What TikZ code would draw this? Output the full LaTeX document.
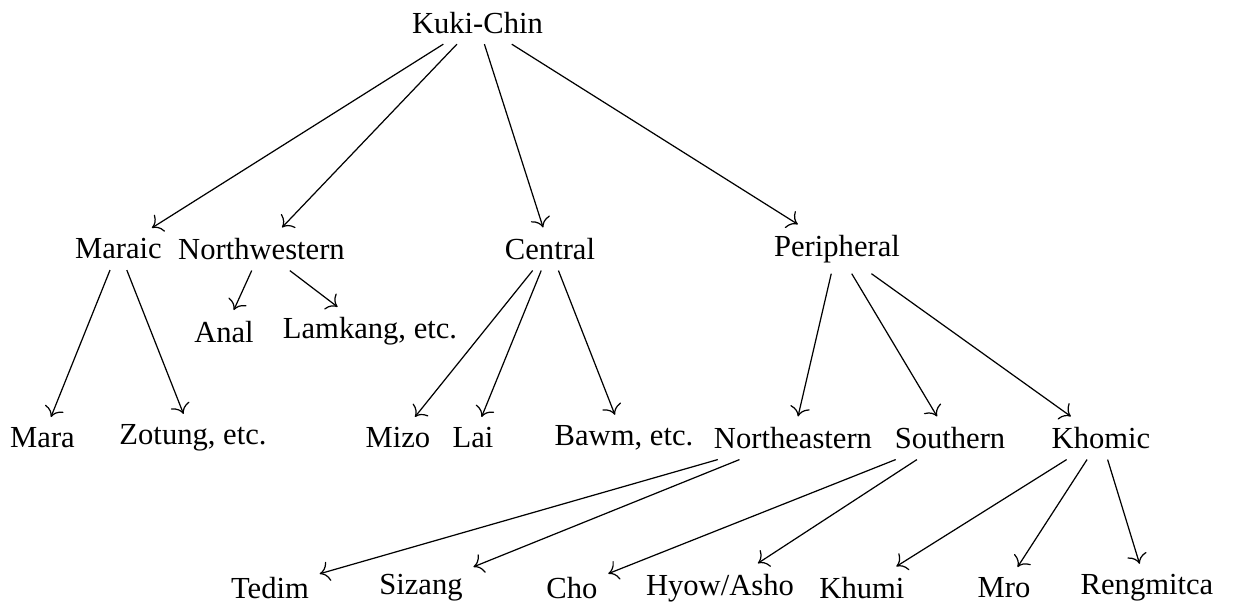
\documentclass[tikz,border=0pt]{standalone}
\usepackage{fontspec}
\setmainfont{Liberation Serif}
\usetikzlibrary{arrows.meta,positioning}

\begin{document}
\begin{tikzpicture}
[x=0.3268pt, y=-0.3268pt, line width=0.4pt, >={To[scale=1.25]},
lang/.style={inner sep=0.333em}]

\useasboundingbox (0,0) rectangle (1258,604);

\node[lang] (kuki) at (477.5,22.6) {Kuki-Chin};

\node[lang] (maraic) at (118.5,249) {Maraic};
\node[lang] (nw) at (261.5,249) {Northwestern};
\node[lang] (central) at (550,249) {Central};
\node[lang] (periph) at (837,249) {Peripheral};

\node[lang] (anal) at (224,331.6) {Anal};
\node[lang] (lamkang) at (370,331.6) {Lamkang, etc.};

\node[lang] (mara) at (42.5,438) {Mara};
\node[lang] (zotung) at (193,438) {Zotung, etc.};
\node[lang] (mizo) at (398,438) {Mizo};
\node[lang] (lai) at (473,438) {Lai};
\node[lang] (bawm) at (624,438) {Bawm, etc.};
\node[lang] (ne) at (793,438) {Northeastern};
\node[lang] (south) at (950,438) {Southern};
\node[lang] (khomic) at (1101,438) {Khomic};

\node[lang] (tedim) at (270,588) {Tedim};
\node[lang] (sizang) at (421,588) {Sizang};
\node[lang] (cho) at (572,588) {Cho};
\node[lang] (hyow) at (720,588) {Hyow/Asho};
\node[lang] (khumi) at (862,588) {Khumi};
\node[lang] (mro) at (1004,588) {Mro};
\node[lang] (reng) at (1147,588) {Rengmitca};

\draw[->] (kuki) -- (maraic);
\draw[->] (kuki) -- (nw);
\draw[->] (kuki) -- (central);
\draw[->] (kuki) -- (periph);

\draw[->] (maraic) -- (mara);
\draw[->] (maraic) -- (zotung);
\draw[->] (nw) -- (anal);
\draw[->] (nw) -- (lamkang);
\draw[->] (central) -- (mizo);
\draw[->] (central) -- (lai);
\draw[->] (central) -- (bawm);
\draw[->] (periph) -- (ne);
\draw[->] (periph) -- (south);
\draw[->] (periph) -- (khomic);

\draw[->] (ne) -- (tedim);
\draw[->] (ne) -- (sizang);
\draw[->] (south) -- (cho);
\draw[->] (south) -- (hyow);
\draw[->] (khomic) -- (khumi);
\draw[->] (khomic) -- (mro);
\draw[->] (khomic) -- (reng);

\end{tikzpicture}
\end{document}
